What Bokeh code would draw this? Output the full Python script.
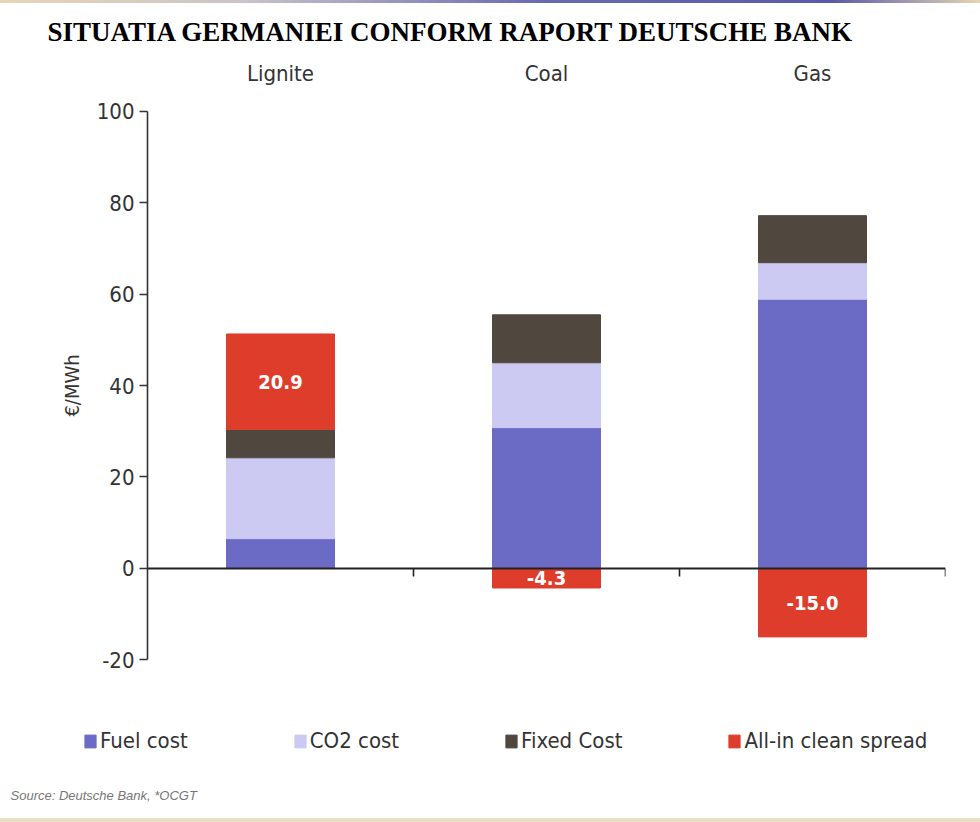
from bokeh.plotting import figure
from bokeh.models import (Range1d, LinearAxis, FixedTicker, Legend, LegendItem,
                          Title, ColumnDataSource, LabelSet, Label, Div)
from bokeh.layouts import column
from bokeh.core.properties import value
from bokeh.embed import file_html
from bokeh.resources import INLINE

title_text = "SITUATIA GERMANIEI CONFORM RAPORT DEUTSCHE BANK"
categories = ["Lignite", "Coal", "Gas"]
fuel_cost = [6.5, 30.8, 58.9]
co2_cost = [17.7, 14.2, 8.0]
fixed_cost = [6.2, 10.5, 10.3]
clean_spread = [20.9, -4.3, -15.0]
series_names = ["Fuel cost", "CO2 cost", "Fixed Cost", "All-in clean spread"]
colors = ["#6b6bc6", "#cccaf2", "#50483f", "#df3d2c"]
y_ticks = [-20, 0, 20, 40, 60, 80, 100]
y_label = "€/MWh"
source_note = "Source: Deutsche Bank, *OCGT"

NARROW = "'DejaVu Sans Condensed', 'Liberation Sans Narrow', 'Liberation Sans', sans-serif"

xs = [i + 0.5 for i in range(len(categories))]
bounds_x = [i + 1 for i in range(len(categories))]
b1 = [0.0] * 3
t1 = fuel_cost
t2 = [a + b for a, b in zip(t1, co2_cost)]
t3 = [a + b for a, b in zip(t2, fixed_cost)]
r_bot = [t if v > 0 else 0.0 for t, v in zip(t3, clean_spread)]
r_top = [t + v if v > 0 else v for t, v in zip(t3, clean_spread)]

# ---- layout constants (pixels) ----
BAND_TOP = 3
BAND_BOTTOM = 4
FIG_H = 822 - BAND_TOP - BAND_BOTTOM
PX = 4.575            # pixels per y unit
PXX = 266.0           # pixels per category slot
AXIS_X = 147          # pixel position of the value axis
RIGHT = 35
TOP = 96              # frame top (figure px); y=100 sits 11 px lower
HEADROOM = 11
Y_MAX = 100 + HEADROOM / PX
Y_MIN = Y_MAX - (FIG_H - TOP) / PX
X_MIN = -AXIS_X / PXX

def img_y(v):
    """data y for an image pixel row (image row 110 is y=100)."""
    return 100 - (v - 110) / PX

p = figure(width=980, height=FIG_H, output_backend="svg", toolbar_location=None,
           x_range=Range1d(X_MIN, 3), y_range=Range1d(Y_MIN, Y_MAX),
           min_border_left=0, min_border_right=RIGHT, min_border_top=TOP,
           min_border_bottom=0, x_axis_type=None, y_axis_type=None)
p.grid.visible = False
p.outline_line_color = None
p.background_fill_color = "white"
p.border_fill_color = "white"

W = 0.406
src = ColumnDataSource(dict(x=xs, b1=b1, t1=t1, t2=t2, t3=t3, rb=r_bot, rt=r_top,
                            lab=["%.1f" % v for v in clean_spread],
                            ly=[(a + b) / 2 for a, b in zip(r_bot, r_top)]))
g1 = p.vbar(x="x", bottom="b1", top="t1", width=W, color=colors[0], source=src)
g2 = p.vbar(x="x", bottom="t1", top="t2", width=W, color=colors[1], source=src)
g3 = p.vbar(x="x", bottom="t2", top="t3", width=W, color=colors[2], source=src)
g4 = p.vbar(x="x", bottom="rb", top="rt", width=W, color=colors[3], source=src)

labels = LabelSet(x="x", y="ly", text="lab", source=src, text_align="center",
                  text_baseline="middle", text_color="white", text_font_size="20px",
                  text_font_style="bold", text_font=value(NARROW))
p.add_layout(labels)

# y axis, fixed at x = 0
yax = LinearAxis(ticker=FixedTicker(ticks=y_ticks), axis_label=y_label, bounds=(-20, 100),
                 major_label_overrides={v: str(v) for v in y_ticks}, fixed_location=0)
yax.axis_line_color = "#333333"
yax.axis_line_width = 1.6
yax.major_tick_line_color = "#333333"
yax.major_tick_line_width = 1.6
yax.major_tick_out = 8
yax.major_tick_in = 0
yax.minor_tick_line_color = None
yax.major_label_text_font = NARROW
yax.major_label_text_font_size = "22px"
yax.major_label_text_color = "#333333"
yax.major_label_standoff = 5
yax.axis_label_text_font = NARROW
yax.axis_label_text_font_size = "20px"
yax.axis_label_text_font_style = "normal"
yax.axis_label_text_color = "#333333"
yax.axis_label_standoff = 10
p.add_layout(yax, "left")

# category axis line at y = 0 with boundary ticks
zax = LinearAxis(ticker=FixedTicker(ticks=bounds_x), bounds=(0, 3), fixed_location=0)
zax.axis_line_color = "#222222"
zax.axis_line_width = 2
zax.major_tick_line_color = "#222222"
zax.major_tick_line_width = 1.6
zax.major_tick_out = 8
zax.major_tick_in = 0
zax.minor_tick_line_color = None
zax.major_label_text_color = None
zax.major_label_text_font_size = "1px"
zax.major_label_standoff = 0
p.add_layout(zax, "below")

# category names above
cax = LinearAxis(ticker=FixedTicker(ticks=xs),
                 major_label_overrides={x: c for x, c in zip(xs, categories)})
cax.axis_line_color = None
cax.major_tick_line_color = None
cax.minor_tick_line_color = None
cax.major_label_text_font = NARROW
cax.major_label_text_font_size = "22px"
cax.major_label_text_color = "#333333"
cax.major_label_standoff = 20 - HEADROOM
p.add_layout(cax, "above")

t = Title(text=title_text, align="left", offset=47, standoff=22,
          text_font="'Liberation Serif', 'Times New Roman', serif",
          text_font_size="27px", text_font_style="bold", text_color="black")
p.add_layout(t, "above")

legend = Legend(items=[LegendItem(label=n, renderers=[g]) for n, g in zip(series_names, [g1, g2, g3, g4])],
                orientation="horizontal", location=(83, 65), spacing=105,
                label_standoff=3, glyph_width=14, glyph_height=16, label_text_font=NARROW,
                label_text_font_size="22px", label_text_color="#333333",
                background_fill_alpha=0, border_line_color=None, padding=0, margin=0)
p.add_layout(legend, "center")

p.add_layout(Label(x=(10 - AXIS_X) / PXX, y=img_y(795), text=source_note, text_font_size="13px",
                   text_font_style="italic", text_color="#777777", text_baseline="middle",
                   text_font="'Liberation Sans', sans-serif"))

top_band = Div(width=980, height=BAND_TOP, margin=0, styles={
    "background": "linear-gradient(to right, #e6d6b4 0%, #c9c4c8 25%, #6a6ab4 55%, #5a5aa8 85%, #e6d6b4 100%)"})
bottom_band = Div(width=980, height=BAND_BOTTOM, margin=0, styles={"background": "#e8dfc4"})

layout = column(top_band, p, bottom_band, spacing=0)
open("out.html", "w").write(file_html(layout, INLINE))
